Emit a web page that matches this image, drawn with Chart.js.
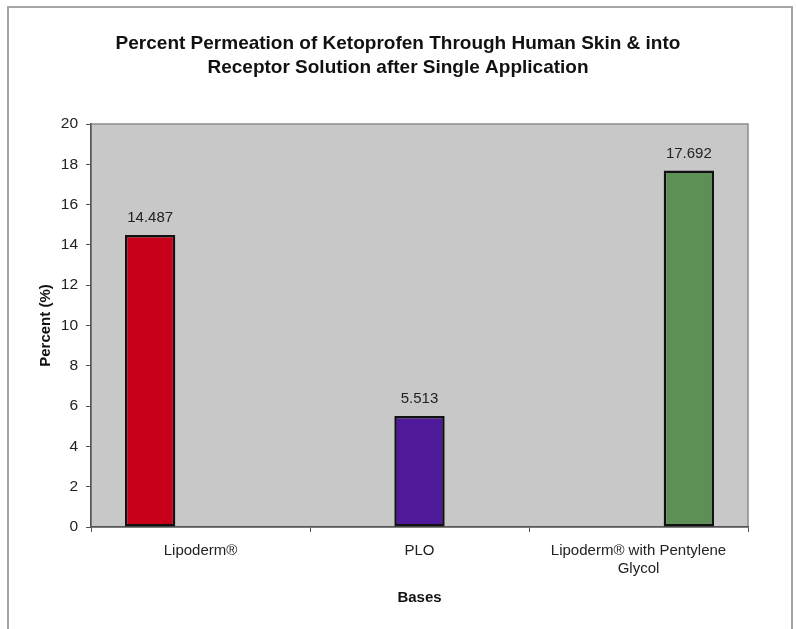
<!DOCTYPE html>
<html>
<head>
<meta charset="utf-8">
<script src="https://cdn.jsdelivr.net/npm/chart.js@4.4.1/dist/chart.umd.min.js"></script>
<style>
  html, body { margin: 0; padding: 0; background: #ffffff; }
  #wrap { width: 796px; height: 629px; position: relative; }
</style>
</head>
<body>
<div id="wrap"><canvas id="c" width="796" height="629"></canvas></div>
<script>
const titleLines = ["Percent Permeation of Ketoprofen Through Human Skin & into", "Receptor Solution after Single Application"];
const categories = ["Lipoderm®", "PLO", ["Lipoderm® with Pentylene", "Glycol"]];
const seriesNames = ["Lipoderm®", "PLO", "Lipoderm® with Pentylene Glycol"];
const lipodermValues = [14.487, null, null];
const ploValues = [null, 5.513, null];
const pentyleneValues = [null, null, 17.692];
const seriesColors = ["#C8001A", "#4E1A9A", "#5E8F57"];
const yTitle = "Percent (%)";
const xTitle = "Bases";
const yMin = 0, yMax = 20, yStep = 2;

const FONT = "'Liberation Sans', Arial, sans-serif";

const bgPlugin = {
  id: 'bg',
  beforeDraw(chart) {
    const ctx = chart.ctx;
    const a = chart.chartArea;
    ctx.save();
    ctx.fillStyle = '#ffffff';
    ctx.fillRect(0, 0, chart.width, chart.height);
    ctx.strokeStyle = '#A6A6A6';
    ctx.lineWidth = 2;
    ctx.strokeRect(8, 7, 784, 640);
    ctx.fillStyle = '#C8C8C8';
    ctx.fillRect(a.left, a.top, a.right - a.left, a.bottom - a.top);
    ctx.strokeStyle = '#8C8C8C';
    ctx.lineWidth = 1.5;
    ctx.strokeRect(a.left, a.top, a.right - a.left, a.bottom - a.top);
    // title
    ctx.fillStyle = '#111111';
    ctx.font = "bold 19px " + FONT;
    ctx.textAlign = 'center';
    ctx.textBaseline = 'middle';
    ctx.fillText(titleLines[0], 398, 44);
    ctx.fillText(titleLines[1], 398, 68);
    ctx.restore();
  }
};

const labelPlugin = {
  id: 'vlabels',
  afterDatasetsDraw(chart) {
    const ctx = chart.ctx;
    ctx.save();
    ctx.fillStyle = '#222222';
    ctx.font = "15px " + FONT;
    ctx.textAlign = 'center';
    ctx.textBaseline = 'middle';
    chart.data.datasets.forEach((ds, di) => {
      const meta = chart.getDatasetMeta(di);
      meta.data.forEach((el, i) => {
        const v = ds.data[i];
        if (v === null || v === undefined) return;
        ctx.fillText(v.toFixed(3), el.x, el.y - 17);
      });
    });
    ctx.restore();
  }
};

const valueSets = [lipodermValues, ploValues, pentyleneValues];

new Chart(document.getElementById('c'), {
  type: 'bar',
  data: {
    labels: categories,
    datasets: valueSets.map((vals, i) => ({
      label: seriesNames[i],
      data: vals,
      backgroundColor: seriesColors[i],
      borderColor: '#111111',
      borderWidth: 2.5,
      borderSkipped: false,
      barPercentage: 1.0,
      categoryPercentage: 0.69
    }))
  },
  options: {
    responsive: false,
    animation: false,
    devicePixelRatio: 1,
    layout: { padding: { top: 124, right: 48, left: 0, bottom: 0 } },
    plugins: {
      legend: { display: false },
      title: { display: false },
      tooltip: { enabled: false }
    },
    scales: {
      x: {
        afterFit(scale) { scale.height = 102; },
        grid: {
          offset: true,
          drawOnChartArea: false,
          drawTicks: true,
          tickLength: 5,
          color: '#555555'
        },
        border: { display: true, color: '#555555', width: 1.5 },
        ticks: {
          color: '#222222',
          font: { family: FONT, size: 15 },
          padding: 10,
          maxRotation: 0,
          autoSkip: false
        },
        title: {
          display: true,
          text: xTitle,
          color: '#111111',
          font: { family: FONT, size: 15, weight: 'bold' },
          padding: { top: 0, bottom: 22 }
        }
      },
      y: {
        min: yMin,
        max: yMax,
        afterFit(scale) { scale.width = 91; },
        grid: {
          drawOnChartArea: false,
          drawTicks: true,
          tickLength: 5,
          color: '#555555'
        },
        border: { display: true, color: '#555555', width: 1.5 },
        ticks: {
          stepSize: yStep,
          color: '#222222',
          font: { family: FONT, size: 15.5 },
          padding: 8
        },
        title: {
          display: true,
          text: yTitle,
          color: '#111111',
          font: { family: FONT, size: 15, weight: 'bold' },
          padding: { top: 37, bottom: 0 }
        }
      }
    }
  },
  plugins: [bgPlugin, labelPlugin]
});
</script>
</body>
</html>
